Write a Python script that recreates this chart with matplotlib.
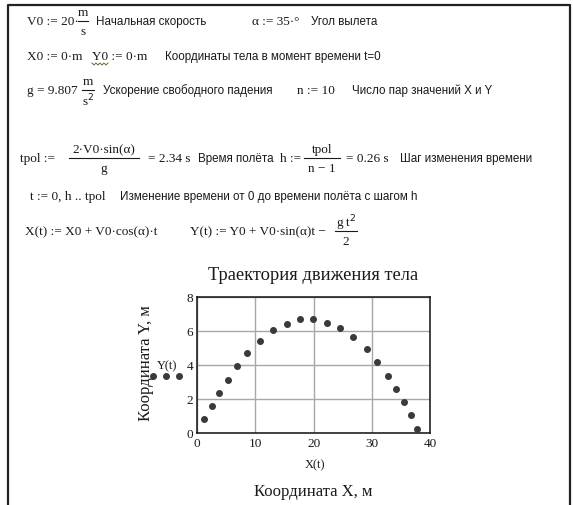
import matplotlib.pyplot as plt

# Точки траектории X(t), Y(t)
x_pts = [1.2, 2.47, 3.66, 5.26, 6.8, 8.56, 10.86, 13.08, 15.4, 17.64, 19.95,
         22.3, 24.5, 26.8, 29.1, 30.9, 32.7, 34.2, 35.45, 36.65, 37.85]
y_pts = [0.79, 1.55, 2.34, 3.12, 3.9, 4.67, 5.39, 6.06, 6.41, 6.67, 6.67,
         6.47, 6.18, 5.65, 4.92, 4.14, 3.35, 2.57, 1.79, 1.02, 0.24]
x_ticks = [0, 10, 20, 30, 40]
y_ticks = [0, 2, 4, 6, 8]

W, H = 573, 506
SERIF = 'Liberation Serif'
SANS = 'Liberation Sans'
INK = '#1a1a1a'

fig = plt.figure(figsize=(W / 100, H / 100), dpi=100)
fig.patch.set_facecolor('white')

# слой для текста в пиксельных координатах
page = fig.add_axes([0, 0, 1, 1])
page.set_xlim(0, W)
page.set_ylim(H, 0)
page.axis('off')


def math(x, y, s, size=9.5, **kw):
    page.text(x, y, s, family=SERIF, fontsize=size, color=INK, va='center', ha='left', **kw)


def note(x, y, s, size=8.4):
    page.text(x, y, s, family=SANS, fontsize=size, color=INK, va='center', ha='left')


def frac(xc, y, num, den, w, size=9.5):
    page.text(xc, y - 9, num, family=SERIF, fontsize=size, color=INK, va='center', ha='center')
    page.text(xc, y + 10, den, family=SERIF, fontsize=size, color=INK, va='center', ha='center')
    page.plot([xc - w / 2, xc + w / 2], [y, y], color=INK, lw=0.8)


# рамка документа
page.plot([8, 8, 570, 570], [H, 6, 6, H], color='#222222', lw=1.6)

# строка 1
math(27, 22, 'V0 := 20·')
frac(83, 22, 'm', 's', 10)
note(96, 22, 'Начальная скорость')
math(252, 22, 'α := 35·°')
note(311, 22, 'Угол вылета')

# строка 2
math(27, 57, 'X0 := 0·m')
math(92, 57, 'Y0 := 0·m')
zx = [92 + i * 2 for i in range(9)]
zy = [64 if i % 2 == 0 else 66 for i in range(9)]
page.plot(zx, zy, color='#6b6b2a', lw=0.7)
note(165, 57, 'Координаты тела в момент времени t=0')

# строка 3
math(27, 91, 'g = 9.807')
frac(88, 91, 'm', 's$^2$', 12)
note(103, 91, 'Ускорение свободного падения')
math(297, 91, 'n := 10')
note(352, 91, 'Число пар значений X и Y')

# строка 4
math(20, 159, 'tpol :=')
frac(104, 159, '2·V0·sin(α)', 'g', 70)
math(148, 159, '= 2.34 s')
note(198, 159, 'Время полёта')
math(280, 159, 'h :=')
frac(322, 159, 'tpol', 'n − 1', 36)
math(346, 159, '= 0.26 s')
note(400, 159, 'Шаг изменения времени')

# строка 5
math(30, 197, 't := 0, h .. tpol')
note(120, 197, 'Изменение времени от 0 до времени полёта с шагом h')

# строка 6
math(25, 232, 'X(t) := X0 + V0·cos(α)·t')
math(190, 232, 'Y(t) := Y0 + V0·sin(α)t −')
frac(346, 232, 'g t$^2$', '2', 22)

# подписи графика
page.text(313, 276, 'Траектория движения тела', family=SERIF, fontsize=13.3,
          color=INK, ha='center', va='center')
page.text(146, 363, 'Координата Y, м', family=SERIF, fontsize=12, color=INK,
          ha='center', va='center', rotation=90)
page.text(167, 366, 'Y(t)', family=SERIF, fontsize=9, color=INK, ha='center', va='center')
page.plot([152.7, 165.7, 179], [377, 377, 377], ls='none', marker='o',
          ms=4, color='#3a3a3a')
page.text(315, 465, 'X(t)', family=SERIF, fontsize=9, color=INK, ha='center', va='center')
page.text(313, 492, 'Координата X, м', family=SERIF, fontsize=12, color=INK,
          ha='center', va='center')

# сам график
left, right, top, bottom = 197.3, 430, 297.7, 433.7
ax = fig.add_axes([left / W, 1 - bottom / H, (right - left) / W, (bottom - top) / H])
ax.scatter(x_pts, y_pts, s=16, color='#3a3a3a', zorder=3)
ax.set_xlim(0, 40)
ax.set_ylim(0, 8)
ax.set_xticks(x_ticks)
ax.set_yticks(y_ticks)
ax.grid(True, color='#a8a8a8', lw=1.0)
ax.set_axisbelow(True)
ax.tick_params(length=0, pad=3, labelsize=9.5, labelcolor=INK)
for lab in ax.get_xticklabels() + ax.get_yticklabels():
    lab.set_family(SERIF)
for sp in ax.spines.values():
    sp.set_color('#111111')
    sp.set_linewidth(1.1)

fig.savefig('out.png', dpi=100)
